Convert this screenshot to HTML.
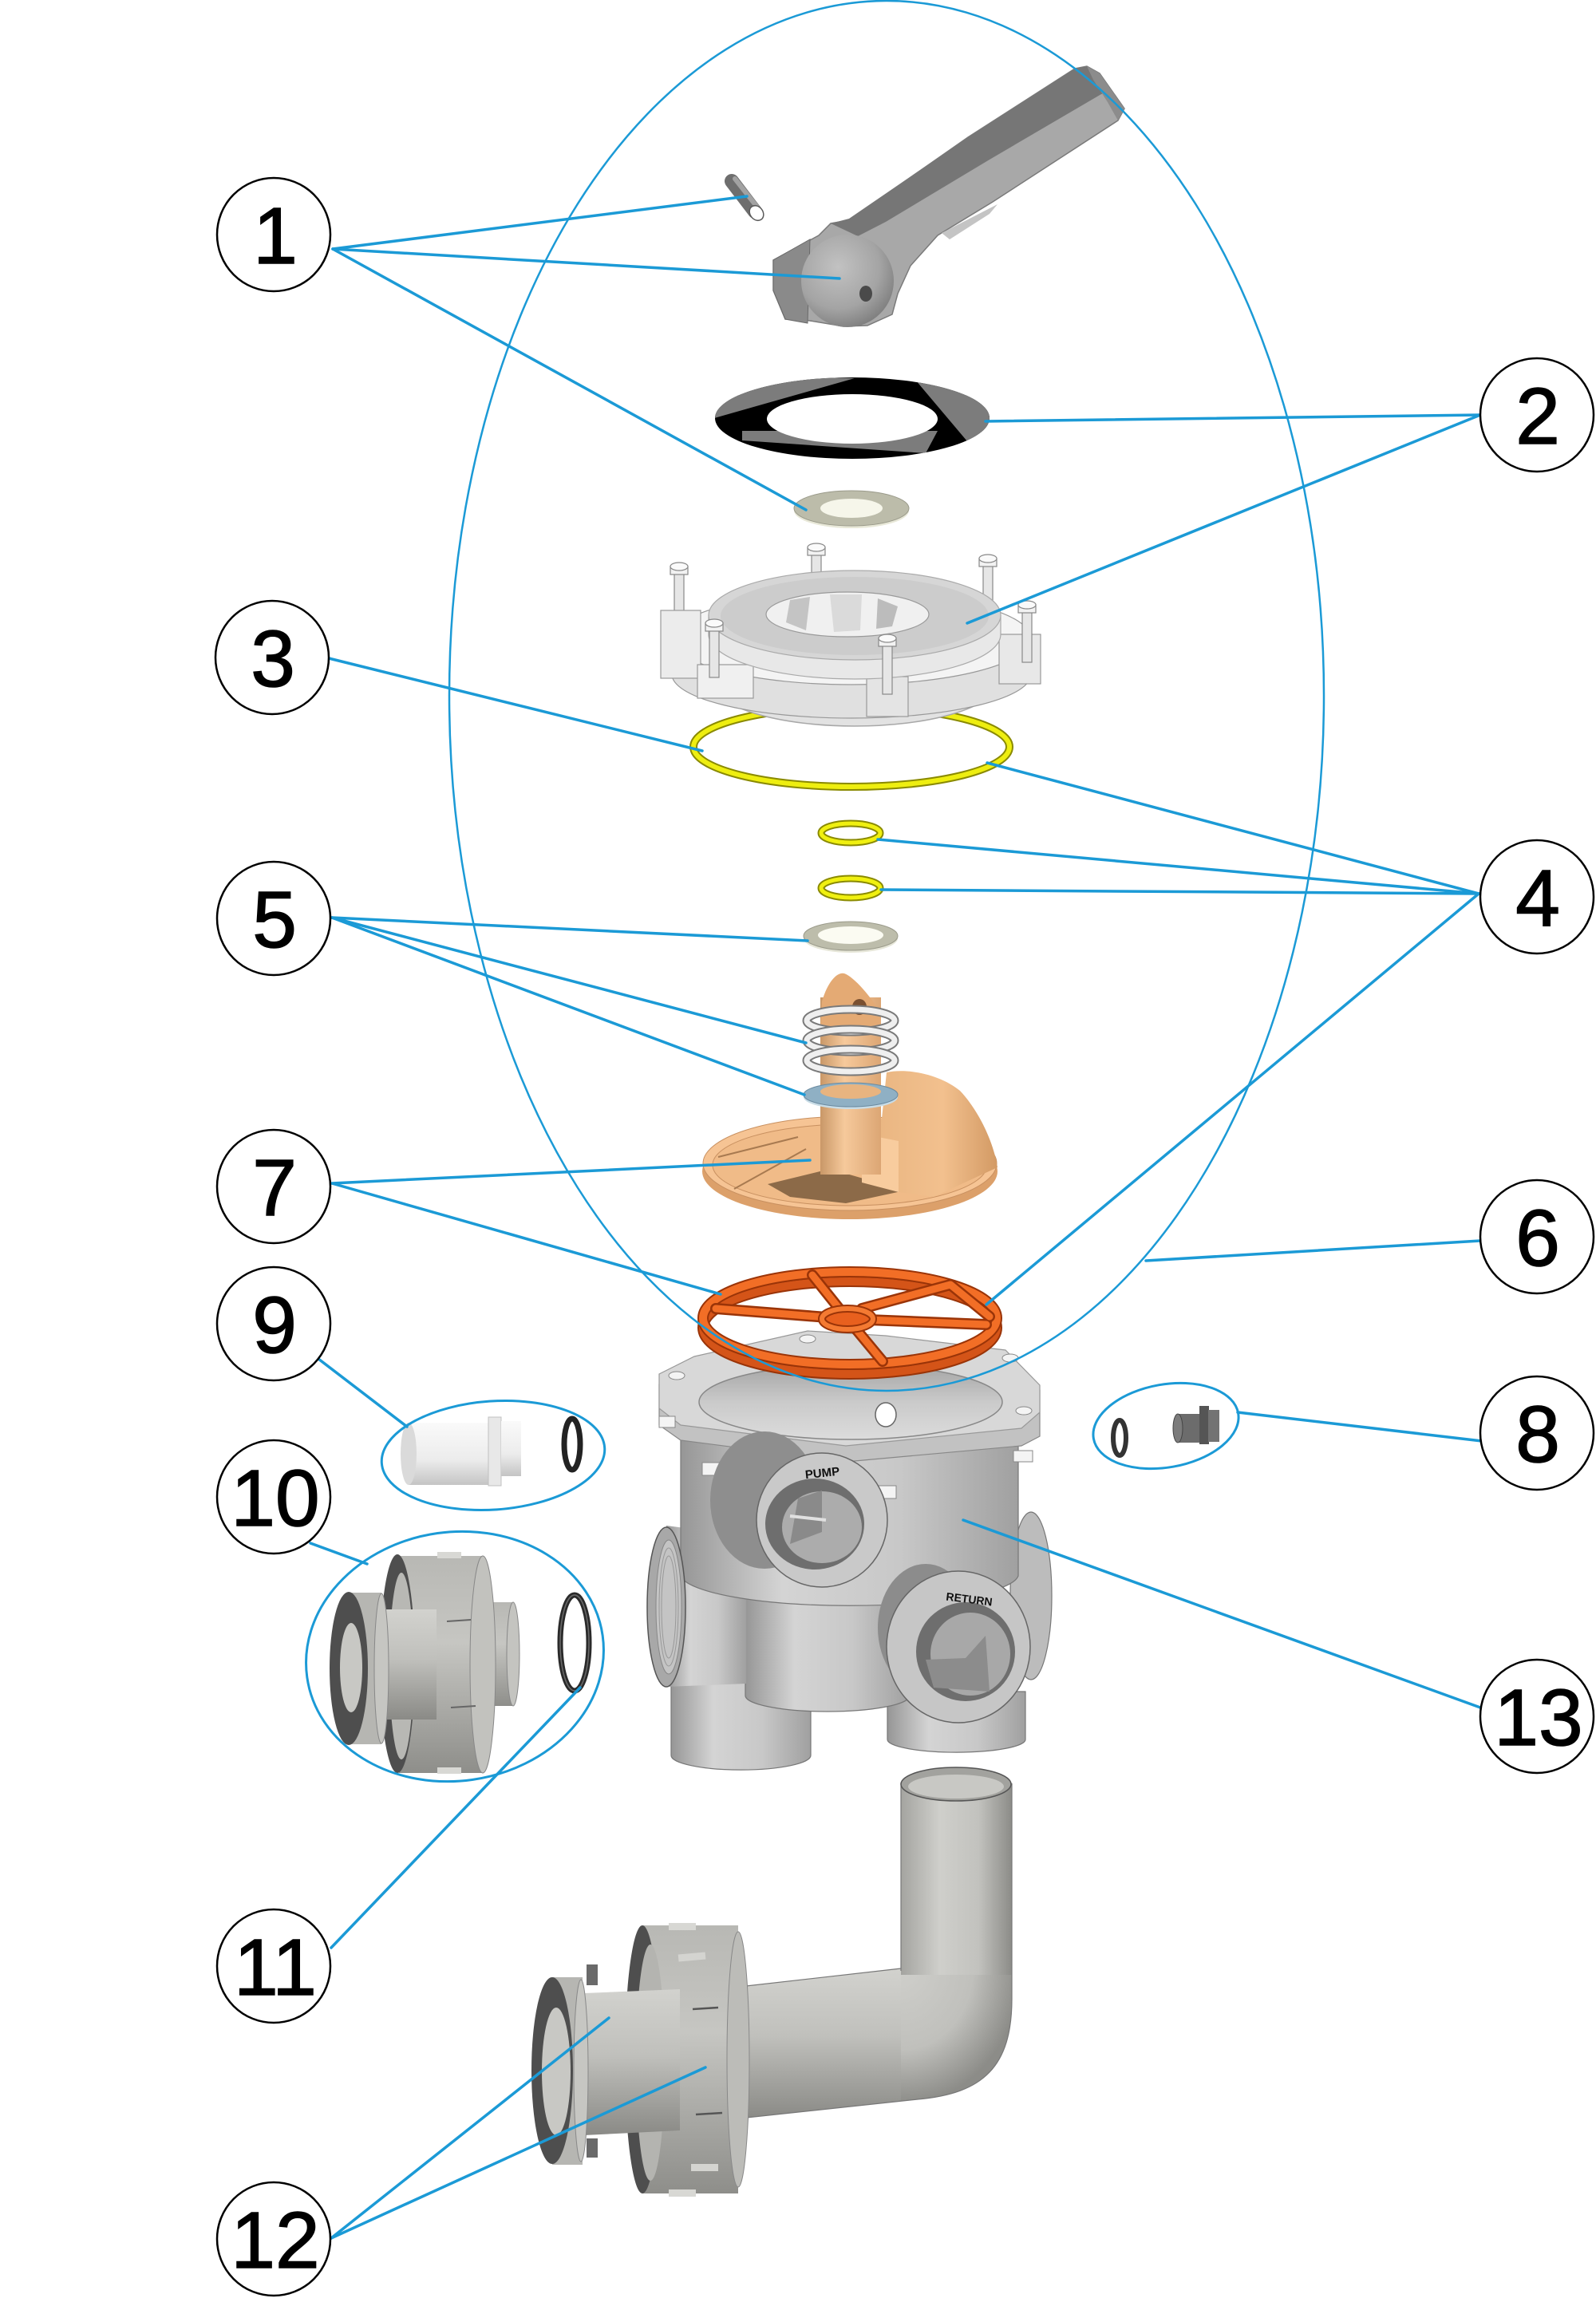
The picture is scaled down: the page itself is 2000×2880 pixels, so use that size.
<!DOCTYPE html>
<html>
<head>
<meta charset="utf-8">
<style>
html,body{margin:0;padding:0;background:#fff;}
svg{display:block;}
</style>
</head>
<body>
<svg width="2000" height="2880" viewBox="0 0 2000 2880" xmlns="http://www.w3.org/2000/svg">
<defs>
  <linearGradient id="cylV" x1="0" y1="0" x2="1" y2="0">
    <stop offset="0" stop-color="#969696"/>
    <stop offset="0.3" stop-color="#d4d4d4"/>
    <stop offset="0.65" stop-color="#c8c8c8"/>
    <stop offset="1" stop-color="#a0a0a0"/>
  </linearGradient>
  <linearGradient id="cylV2" x1="0" y1="0" x2="1" y2="0">
    <stop offset="0" stop-color="#a4a4a0"/>
    <stop offset="0.35" stop-color="#cfcfcb"/>
    <stop offset="0.7" stop-color="#c2c2be"/>
    <stop offset="1" stop-color="#8c8c88"/>
  </linearGradient>
  <linearGradient id="cylH" x1="0" y1="0" x2="0" y2="1">
    <stop offset="0" stop-color="#d2d2ce"/>
    <stop offset="0.45" stop-color="#c0c0bc"/>
    <stop offset="1" stop-color="#8a8a86"/>
  </linearGradient>
  <radialGradient id="elbowG" cx="0" cy="0" r="1" gradientUnits="userSpaceOnUse" gradientTransform="translate(1129,2467) scale(150,170)">
    <stop offset="0" stop-color="#cfcfcb"/>
    <stop offset="0.6" stop-color="#c0c0bc"/>
    <stop offset="1" stop-color="#8c8c88"/>
  </radialGradient>
  <linearGradient id="nutG" x1="0" y1="0" x2="0" y2="1">
    <stop offset="0" stop-color="#b8b8b4"/>
    <stop offset="0.4" stop-color="#c6c6c2"/>
    <stop offset="1" stop-color="#8e8e8a"/>
  </linearGradient>
  <linearGradient id="tanV" x1="0" y1="0" x2="1" y2="0">
    <stop offset="0" stop-color="#c99868"/>
    <stop offset="0.4" stop-color="#f6c99b"/>
    <stop offset="1" stop-color="#dca674"/>
  </linearGradient>
  <linearGradient id="tanH" x1="0" y1="0" x2="1" y2="0">
    <stop offset="0" stop-color="#e8b47f"/>
    <stop offset="0.6" stop-color="#f2c08e"/>
    <stop offset="1" stop-color="#d39a64"/>
  </linearGradient>
  <radialGradient id="knob" cx="0.4" cy="0.35" r="0.75">
    <stop offset="0" stop-color="#c2c2c2"/>
    <stop offset="0.6" stop-color="#a4a4a4"/>
    <stop offset="1" stop-color="#747474"/>
  </radialGradient>
  <linearGradient id="whiteV" x1="0" y1="0" x2="0" y2="1">
    <stop offset="0" stop-color="#fafafa"/>
    <stop offset="0.6" stop-color="#ececec"/>
    <stop offset="1" stop-color="#c4c4c4"/>
  </linearGradient>
  <linearGradient id="opening" x1="0" y1="0" x2="0" y2="1">
    <stop offset="0" stop-color="#a4a4a4"/>
    <stop offset="0.5" stop-color="#cacaca"/>
    <stop offset="1" stop-color="#dcdcdc"/>
  </linearGradient>
  <clipPath id="gasketClip">
    <ellipse cx="1068" cy="524" rx="172" ry="51"/>
  </clipPath>
</defs>

<!-- ============ PART 1: pin ============ -->
<line x1="917" y1="227" x2="946" y2="265" stroke="#6e6e6e" stroke-width="18" stroke-linecap="round"/>
<line x1="921" y1="224" x2="950" y2="261" stroke="#a2a2a2" stroke-width="6" stroke-linecap="round"/>
<ellipse cx="948" cy="267" rx="8" ry="10" transform="rotate(-38 948 267)" fill="#ffffff" stroke="#5a5a5a" stroke-width="1.5"/>

<!-- ============ PART 1: handle ============ -->
<path d="M1064,276 L1213,172 L1347,86 L1362,83 L1378,92 L1409,136 L1401,151 L1244,253 L1175,295 L1141,333 L1125,368 L1118,394 L1087,408 L1057,409 L1003,400 L984,400 L969,364 L969,326 L1026,295 L1041,280 Z" fill="#a8a8a8" stroke="#7a7a7a" stroke-width="1.5"/>
<path d="M1041,280 L1064,274 L1213,172 L1347,86 L1362,83 L1378,92 L1392,115 L1380,118 L1240,200 L1110,278 L1075,296 Z" fill="#767676"/>
<path d="M1362,83 L1378,92 L1409,136 L1401,151 L1388,128 L1370,100 Z" fill="#8c8c8c"/>
<path d="M1180,292 L1250,256 L1240,268 L1190,300 Z" fill="#c4c4c4"/>
<path d="M969,326 L1015,300 L1012,405 L984,400 L969,364 Z" fill="#8a8a8a" stroke="#6a6a6a" stroke-width="1"/>
<circle cx="1062" cy="352" r="58" fill="url(#knob)"/>
<ellipse cx="1085" cy="368" rx="8" ry="10" fill="#4a4a4a"/>

<!-- ============ PART 2: gasket ============ -->
<ellipse cx="1068" cy="524" rx="172" ry="51" fill="#000"/>
<g clip-path="url(#gasketClip)">
  <polygon points="895,524 1071,474 880,470" fill="#7c7c7c"/>
  <polygon points="1147,476 1212,553 1260,553 1260,470" fill="#7c7c7c"/>
  <polygon points="930,552 1160,568 1175,540 930,540" fill="#7c7c7c"/>
</g>
<ellipse cx="1068" cy="525" rx="107" ry="31" fill="#ffffff"/>

<!-- ============ washer top ============ -->
<ellipse cx="1067" cy="640" rx="72" ry="22" fill="#e8e8d8"/>
<ellipse cx="1067" cy="637" rx="72" ry="22" fill="#bcbcaa" stroke="#9a9a8a" stroke-width="1"/>
<ellipse cx="1067" cy="637" rx="39" ry="12" fill="#f6f6ea"/>

<!-- ============ big yellow o-ring ============ -->
<ellipse cx="1067" cy="936" rx="198" ry="50" fill="none" stroke="#8a8a00" stroke-width="10"/>
<ellipse cx="1067" cy="936" rx="198" ry="50" fill="none" stroke="#eeee10" stroke-width="6"/>

<!-- ============ top cover ============ -->
<ellipse cx="1071" cy="855" rx="178" ry="55" fill="#e2e2e2" stroke="#a8a8a8" stroke-width="1.5"/>
<g stroke="#888" stroke-width="1.2">
  <rect x="845" y="718" width="12" height="72" fill="#e6e6e6"/>
  <rect x="840" y="710" width="22" height="10" fill="#f2f2f2"/>
  <ellipse cx="851" cy="710" rx="11" ry="5" fill="#fafafa"/>
  <rect x="1017" y="694" width="12" height="52" fill="#e6e6e6"/>
  <rect x="1012" y="686" width="22" height="10" fill="#f2f2f2"/>
  <ellipse cx="1023" cy="686" rx="11" ry="5" fill="#fafafa"/>
  <rect x="1232" y="708" width="12" height="62" fill="#e6e6e6"/>
  <rect x="1227" y="700" width="22" height="10" fill="#f2f2f2"/>
  <ellipse cx="1238" cy="700" rx="11" ry="5" fill="#fafafa"/>
</g>
<path d="M842,800 L842,845 A225,55 0 0 0 1292,845 L1292,800 Z" fill="#e0e0e0" stroke="#999" stroke-width="1.2"/>
<ellipse cx="1067" cy="800" rx="225" ry="58" fill="#f4f4f4" stroke="#999" stroke-width="1.2"/>
<rect x="828" y="765" width="50" height="85" fill="#ececec" stroke="#999" stroke-width="1.2"/>
<rect x="1252" y="795" width="52" height="62" fill="#e8e8e8" stroke="#999" stroke-width="1.2"/>
<rect x="874" y="833" width="70" height="42" fill="#f0f0f0" stroke="#999" stroke-width="1.2"/>
<rect x="1086" y="848" width="52" height="50" fill="#e4e4e4" stroke="#999" stroke-width="1.2"/>
<path d="M888,771 L888,795 A183,56 0 0 0 1254,795 L1254,771 Z" fill="#e8e8e8" stroke="#aaa" stroke-width="1.2"/>
<ellipse cx="1071" cy="771" rx="183" ry="56" fill="#d6d6d6" stroke="#aaa" stroke-width="1.2"/>
<ellipse cx="1071" cy="772" rx="168" ry="49" fill="#cccccc"/>
<ellipse cx="1062" cy="770" rx="102" ry="28" fill="#f0f0f0" stroke="#999" stroke-width="1.2"/>
<polygon points="990,752 1015,748 1010,790 985,780" fill="#c4c4c4"/>
<polygon points="1040,745 1080,745 1078,790 1045,792" fill="#dadada"/>
<polygon points="1100,750 1125,760 1118,785 1098,788" fill="#bcbcbc"/>
<g stroke="#888" stroke-width="1.2">
  <rect x="1281" y="766" width="12" height="64" fill="#e6e6e6"/>
  <rect x="1276" y="758" width="22" height="10" fill="#f2f2f2"/>
  <ellipse cx="1287" cy="758" rx="11" ry="5" fill="#fafafa"/>
  <rect x="889" y="789" width="12" height="60" fill="#e6e6e6"/>
  <rect x="884" y="781" width="22" height="10" fill="#f2f2f2"/>
  <ellipse cx="895" cy="781" rx="11" ry="5" fill="#fafafa"/>
  <rect x="1106" y="808" width="12" height="62" fill="#e6e6e6"/>
  <rect x="1101" y="800" width="22" height="10" fill="#f2f2f2"/>
  <ellipse cx="1112" cy="800" rx="11" ry="5" fill="#fafafa"/>
</g>

<!-- ============ small yellow o-rings ============ -->
<ellipse cx="1066" cy="1044" rx="37" ry="12" fill="none" stroke="#8a8a00" stroke-width="9"/>
<ellipse cx="1066" cy="1044" rx="37" ry="12" fill="none" stroke="#f0f010" stroke-width="5"/>
<ellipse cx="1066" cy="1113" rx="37" ry="12" fill="none" stroke="#8a8a00" stroke-width="9"/>
<ellipse cx="1066" cy="1113" rx="37" ry="12" fill="none" stroke="#f0f010" stroke-width="5"/>

<!-- ============ washer 5 ============ -->
<ellipse cx="1066" cy="1176" rx="59" ry="18" fill="#e6e6d8"/>
<ellipse cx="1066" cy="1173" rx="59" ry="18" fill="#bdbdab" stroke="#9a9a8a" stroke-width="1"/>
<ellipse cx="1066" cy="1172" rx="41" ry="11" fill="#fbfbf2"/>

<!-- ============ rotor 7 ============ -->
<ellipse cx="1065" cy="1468" rx="185" ry="60" fill="#dca06a"/>
<ellipse cx="1065" cy="1458" rx="184" ry="59" fill="#f6c494" stroke="#c89060" stroke-width="1"/>
<ellipse cx="1065" cy="1460" rx="172" ry="51" fill="#f0bb88" stroke="#c89060" stroke-width="1"/>
<polygon points="962,1484 1040,1465 1134,1492 1060,1508 990,1500" fill="#8c6a48"/>
<line x1="900" y1="1450" x2="1000" y2="1425" stroke="#a87a50" stroke-width="2"/>
<line x1="920" y1="1490" x2="1010" y2="1440" stroke="#a87a50" stroke-width="2"/>
<path d="M1080,1421 L1105,1402 L1111,1344 C1140,1338 1180,1348 1203,1367 C1225,1390 1245,1430 1250,1463 L1170,1500 L1126,1494 L1126,1430 Z" fill="url(#tanH)"/>
<polygon points="1080,1421 1126,1430 1126,1494 1080,1482" fill="#f8cc9e"/>
<rect x="1028" y="1250" width="76" height="222" fill="url(#tanV)"/>
<path d="M1028,1290 L1030,1255 C1038,1228 1050,1218 1058,1220 C1070,1224 1092,1250 1104,1270 L1104,1290 Z" fill="#e4aa74"/>
<ellipse cx="1077" cy="1262" rx="9" ry="10" fill="#7a5030"/>
<g fill="none">
  <ellipse cx="1066" cy="1279" rx="55" ry="14" stroke="#7a7a7a" stroke-width="11"/>
  <ellipse cx="1066" cy="1279" rx="55" ry="14" stroke="#efefef" stroke-width="7"/>
  <ellipse cx="1066" cy="1304" rx="55" ry="14" stroke="#7a7a7a" stroke-width="11"/>
  <ellipse cx="1066" cy="1304" rx="55" ry="14" stroke="#efefef" stroke-width="7"/>
  <ellipse cx="1066" cy="1329" rx="55" ry="14" stroke="#7a7a7a" stroke-width="11"/>
  <ellipse cx="1066" cy="1329" rx="55" ry="14" stroke="#efefef" stroke-width="7"/>
</g>
<ellipse cx="1066" cy="1375" rx="59" ry="15" fill="#c8dce6"/>
<ellipse cx="1066" cy="1372" rx="59" ry="15" fill="#8fb0c4" stroke="#6a8aa0" stroke-width="1"/>
<ellipse cx="1066" cy="1368" rx="38" ry="9" fill="#e8b480"/>

<!-- ============ body 13 ============ -->
<path d="M841,2105 L841,2200 A87,18 0 0 0 1016,2200 L1016,2105 Z" fill="url(#cylV)" stroke="#777" stroke-width="1.2"/>
<path d="M1112,2120 L1112,2180 A86,16 0 0 0 1285,2180 L1285,2120 Z" fill="url(#cylV)" stroke="#777" stroke-width="1.2"/>
<path d="M934,1980 L934,2125 A103,20 0 0 0 1140,2125 L1140,1980 Z" fill="url(#cylV)" stroke="#777" stroke-width="1.2"/>
<ellipse cx="1292" cy="2000" rx="26" ry="105" fill="#bcbcbc" stroke="#777" stroke-width="1.2"/>
<path d="M835,1912 L935,1925 L935,2110 L835,2114 Z" fill="url(#cylV)"/>
<path d="M853,1745 L853,1975 A212,40 0 0 0 1276,1975 L1276,1745 Z" fill="url(#cylV)" stroke="#777" stroke-width="1.2"/>
<ellipse cx="835" cy="2014" rx="24" ry="100" fill="#a8a8a8" stroke="#555" stroke-width="1.5"/>
<ellipse cx="838" cy="2014" rx="16" ry="84" fill="#c4c4c4" stroke="#888" stroke-width="1"/>
<g stroke="#999" stroke-width="1" fill="none">
  <ellipse cx="838" cy="2014" rx="12" ry="74"/>
  <ellipse cx="838" cy="2014" rx="9" ry="64"/>
</g>
<path d="M826,1735 L870,1708 L1012,1672 L1110,1680 L1260,1697 L1303,1742 L1303,1800 L1280,1812 L1060,1832 L853,1805 L826,1786 Z" fill="#c2c2c2" stroke="#888" stroke-width="1.2"/>
<path d="M826,1722 L870,1700 L1012,1668 L1110,1674 L1260,1692 L1303,1736 L1303,1770 L1280,1790 L1060,1812 L853,1786 L826,1765 Z" fill="#d8d8d8" stroke="#999" stroke-width="1.2"/>
<ellipse cx="1066" cy="1757" rx="190" ry="47" fill="url(#opening)" stroke="#888" stroke-width="1.5"/>
<ellipse cx="1110" cy="1773" rx="13" ry="15" fill="#fff" stroke="#666" stroke-width="1.5"/>
<g fill="#f4f4f4" stroke="#888" stroke-width="1">
  <ellipse cx="848" cy="1724" rx="10" ry="5"/>
  <ellipse cx="1012" cy="1678" rx="10" ry="5"/>
  <ellipse cx="1266" cy="1702" rx="10" ry="5"/>
  <ellipse cx="1283" cy="1768" rx="10" ry="5"/>
  <rect x="826" y="1775" width="20" height="14"/>
  <rect x="880" y="1833" width="26" height="16"/>
  <rect x="1097" y="1862" width="26" height="16"/>
  <rect x="1270" y="1818" width="24" height="14"/>
</g>
<ellipse cx="958" cy="1880" rx="68" ry="86" fill="#8e8e8e"/>
<ellipse cx="1030" cy="1905" rx="82" ry="84" fill="#c9c9c9" stroke="#666" stroke-width="1.5"/>
<ellipse cx="1021" cy="1910" rx="62" ry="57" fill="#6e6e6e"/>
<ellipse cx="1030" cy="1914" rx="50" ry="45" fill="#acacac"/>
<polygon points="1000,1878 1030,1868 1030,1920 990,1935" fill="#8a8a8a"/>
<line x1="990" y1="1900" x2="1035" y2="1905" stroke="#e0e0e0" stroke-width="4"/>
<text x="1031" y="1851" font-family="Liberation Sans, Arial, sans-serif" font-size="15" font-weight="bold" text-anchor="middle" transform="rotate(-6 1031 1851)" fill="#111">PUMP</text>
<ellipse cx="1160" cy="2040" rx="60" ry="80" fill="#8c8c8c"/>
<ellipse cx="1201" cy="2064" rx="90" ry="95" fill="#c6c6c6" stroke="#666" stroke-width="1.5"/>
<ellipse cx="1210" cy="2070" rx="62" ry="62" fill="#6e6e6e"/>
<ellipse cx="1216" cy="2073" rx="50" ry="52" fill="#a8a8a8"/>
<polygon points="1160,2080 1210,2078 1235,2050 1240,2120 1170,2115" fill="#8c8c8c"/>
<text x="1214" y="2009" font-family="Liberation Sans, Arial, sans-serif" font-size="14" font-weight="bold" text-anchor="middle" transform="rotate(7 1214 2009)" fill="#111">RETURN</text>

<!-- ============ orange gasket 7 ============ -->
<g fill="none" stroke-linecap="round" stroke-linejoin="round">
  <ellipse cx="1065" cy="1664" rx="184" ry="58" stroke="#9a3408" stroke-width="14"/>
  <ellipse cx="1065" cy="1664" rx="184" ry="58" stroke="#d45418" stroke-width="10"/>
  <ellipse cx="1065" cy="1652" rx="184" ry="58" stroke="#9a3408" stroke-width="14"/>
  <ellipse cx="1065" cy="1652" rx="184" ry="58" stroke="#f26e26" stroke-width="10"/>
  <g stroke="#9a3408" stroke-width="14">
    <line x1="1062" y1="1653" x2="897" y2="1640"/>
    <line x1="1062" y1="1653" x2="1236" y2="1660"/>
    <line x1="1062" y1="1653" x2="1018" y2="1598"/>
    <line x1="1062" y1="1653" x2="1106" y2="1706"/>
    <polyline points="1080,1640 1191,1610 1240,1650"/>
  </g>
  <g stroke="#f26e26" stroke-width="9">
    <line x1="1062" y1="1653" x2="897" y2="1640"/>
    <line x1="1062" y1="1653" x2="1236" y2="1660"/>
    <line x1="1062" y1="1653" x2="1018" y2="1598"/>
    <line x1="1062" y1="1653" x2="1106" y2="1706"/>
    <polyline points="1080,1640 1191,1610 1240,1650"/>
  </g>
  <ellipse cx="1062" cy="1653" rx="32" ry="13" fill="#e8601e" stroke="#9a3408" stroke-width="10"/>
  <ellipse cx="1062" cy="1653" rx="32" ry="13" stroke="#f47a32" stroke-width="6"/>
</g>

<!-- ============ plug 9 ============ -->
<rect x="512" y="1783" width="108" height="78" fill="url(#whiteV)"/>
<ellipse cx="512" cy="1822" rx="10" ry="39" fill="#dadada"/>
<rect x="612" y="1776" width="16" height="86" fill="#e8e8e8" stroke="#c0c0c0" stroke-width="1"/>
<rect x="628" y="1781" width="25" height="69" fill="url(#whiteV)"/>
<ellipse cx="717" cy="1810" rx="10" ry="32" fill="none" stroke="#222" stroke-width="7"/>

<!-- ============ plug 8 ============ -->
<ellipse cx="1403" cy="1802" rx="8" ry="22" fill="none" stroke="#333" stroke-width="6"/>
<rect x="1475" y="1772" width="32" height="36" fill="#6c6c6c"/>
<ellipse cx="1476" cy="1790" rx="6" ry="18" fill="#7c7c7c" stroke="#444" stroke-width="1"/>
<rect x="1503" y="1762" width="12" height="48" fill="#555"/>
<rect x="1514" y="1767" width="14" height="40" fill="#737373"/>

<!-- ============ union 10 ============ -->
<rect x="600" y="2008" width="43" height="130" fill="url(#nutG)"/>
<ellipse cx="643" cy="2073" rx="8" ry="65" fill="#c4c4c0" stroke="#888" stroke-width="1"/>
<rect x="500" y="1950" width="105" height="272" fill="url(#nutG)"/>
<ellipse cx="605" cy="2086" rx="16" ry="136" fill="#c2c2be" stroke="#888" stroke-width="1"/>
<ellipse cx="498" cy="2085" rx="22" ry="137" fill="#4e4e4e"/>
<ellipse cx="503" cy="2088" rx="15" ry="117" fill="#b8b8b4"/>
<rect x="548" y="1945" width="30" height="8" fill="#d8d8d4"/>
<rect x="548" y="2215" width="30" height="8" fill="#d8d8d4"/>
<line x1="560" y1="2032" x2="590" y2="2030" stroke="#666" stroke-width="2"/>
<line x1="565" y1="2140" x2="596" y2="2138" stroke="#666" stroke-width="2"/>
<rect x="470" y="2017" width="77" height="138" fill="url(#cylH)"/>
<rect x="440" y="1996" width="38" height="190" fill="#b6b6b2"/>
<ellipse cx="478" cy="2091" rx="9" ry="94" fill="#c6c6c2" stroke="#888" stroke-width="1"/>
<ellipse cx="437" cy="2091" rx="24" ry="96" fill="#4e4e4e"/>
<ellipse cx="440" cy="2090" rx="14" ry="56" fill="#c8c8c4"/>

<!-- o-ring 11 -->
<ellipse cx="720" cy="2059" rx="18" ry="60" fill="none" stroke="#2a2a2a" stroke-width="7"/>
<ellipse cx="720" cy="2059" rx="18" ry="60" fill="none" stroke="#6a6a6a" stroke-width="1.5"/>

<!-- ============ pipe 12 ============ -->
<path d="M926,2490 L1129,2467 L1140,2632 L926,2655 Z" fill="url(#cylH)"/>
<path d="M1129,2467 L1268,2467 L1268,2505 C1268,2590 1232,2624 1150,2631 L1129,2633 Z" fill="url(#elbowG)"/>
<rect x="1129" y="2235" width="139" height="240" fill="url(#cylV2)"/>
<path d="M1129,2470 L1129,2235 M1268,2235 L1268,2505 C1268,2590 1232,2624 1150,2631 L926,2655 M926,2490 L1129,2467" fill="none" stroke="#777" stroke-width="1.2"/>
<ellipse cx="1198" cy="2236" rx="69" ry="21" fill="#a2a29e" stroke="#555" stroke-width="1.5"/>
<ellipse cx="1198" cy="2239" rx="60" ry="15" fill="#c8c8c4"/>
<rect x="805" y="2413" width="120" height="336" fill="url(#nutG)"/>
<ellipse cx="925" cy="2581" rx="14" ry="160" fill="#bcbcb8" stroke="#888" stroke-width="1"/>
<ellipse cx="805" cy="2581" rx="22" ry="168" fill="#4e4e4e"/>
<ellipse cx="815" cy="2585" rx="18" ry="148" fill="#b4b4b0"/>
<rect x="838" y="2410" width="34" height="9" fill="#d8d8d4"/>
<rect x="838" y="2744" width="34" height="9" fill="#d8d8d4"/>
<line x1="868" y1="2518" x2="900" y2="2516" stroke="#555" stroke-width="2.5"/>
<line x1="872" y1="2650" x2="905" y2="2648" stroke="#555" stroke-width="2.5"/>
<rect x="850" y="2448" width="34" height="9" fill="#d4d4d0" transform="rotate(-5 867 2452)"/>
<rect x="866" y="2712" width="34" height="9" fill="#d4d4d0"/>
<path d="M732,2498 L852,2493 L852,2670 L732,2676 Z" fill="url(#cylH)"/>
<rect x="692" y="2478" width="38" height="235" fill="#b6b6b2"/>
<ellipse cx="728" cy="2595" rx="9" ry="114" fill="#c6c6c2" stroke="#888" stroke-width="1"/>
<ellipse cx="692" cy="2595" rx="26" ry="117" fill="#4e4e4e"/>
<ellipse cx="697" cy="2596" rx="18" ry="80" fill="#c8c8c4"/>
<rect x="735" y="2462" width="14" height="26" fill="#6a6a6a"/>
<rect x="735" y="2680" width="14" height="24" fill="#6a6a6a"/>

<!-- ============ big ellipse 6 ============ -->
<ellipse cx="1111" cy="872" rx="548" ry="871" fill="none" stroke="#1b9ad6" stroke-width="2.5"/>

<!-- group ellipses -->
<ellipse cx="618" cy="1824" rx="140" ry="68" transform="rotate(-4 618 1824)" fill="none" stroke="#1b9ad6" stroke-width="3"/>
<ellipse cx="570" cy="2076" rx="187" ry="156" transform="rotate(-8 570 2076)" fill="none" stroke="#1b9ad6" stroke-width="3"/>
<ellipse cx="1461" cy="1787" rx="92" ry="52" transform="rotate(-10 1461 1787)" fill="none" stroke="#1b9ad6" stroke-width="3"/>

<!-- ============ leader lines ============ -->
<g stroke="#1b9ad6" stroke-width="3.5" fill="none" stroke-linecap="round">
  <line x1="417" y1="312" x2="936" y2="246"/>
  <line x1="417" y1="312" x2="1052" y2="349"/>
  <line x1="417" y1="312" x2="1010" y2="639"/>
  <line x1="1855" y1="520" x2="1235" y2="528"/>
  <line x1="1855" y1="520" x2="1212" y2="781"/>
  <line x1="412" y1="825" x2="880" y2="941"/>
  <line x1="1853" y1="1120" x2="1237" y2="956"/>
  <line x1="1853" y1="1120" x2="1100" y2="1052"/>
  <line x1="1853" y1="1120" x2="1104" y2="1115"/>
  <line x1="1853" y1="1120" x2="1236" y2="1635"/>
  <line x1="416" y1="1150" x2="1012" y2="1179"/>
  <line x1="416" y1="1150" x2="1010" y2="1307"/>
  <line x1="416" y1="1150" x2="1008" y2="1372"/>
  <line x1="1855" y1="1555" x2="1436" y2="1580"/>
  <line x1="416" y1="1483" x2="1015" y2="1454"/>
  <line x1="416" y1="1483" x2="903" y2="1622"/>
  <line x1="1551" y1="1770" x2="1857" y2="1806"/>
  <line x1="399" y1="1703" x2="510" y2="1788"/>
  <line x1="389" y1="1934" x2="460" y2="1960"/>
  <line x1="415" y1="2441" x2="727" y2="2115"/>
  <line x1="415" y1="2805" x2="763" y2="2529"/>
  <line x1="415" y1="2805" x2="884" y2="2591"/>
  <line x1="1855" y1="2140" x2="1207" y2="1905"/>
</g>

<!-- ============ callout circles ============ -->
<g fill="#fff" stroke="#000" stroke-width="2.5">
  <circle cx="343" cy="294" r="71"/>
  <circle cx="1926" cy="520" r="71"/>
  <circle cx="341" cy="824" r="71"/>
  <circle cx="1926" cy="1124" r="71"/>
  <circle cx="343" cy="1151" r="71"/>
  <circle cx="1926" cy="1550" r="71"/>
  <circle cx="343" cy="1487" r="71"/>
  <circle cx="1926" cy="1796" r="71"/>
  <circle cx="343" cy="1659" r="71"/>
  <circle cx="343" cy="1876" r="71"/>
  <circle cx="343" cy="2464" r="71"/>
  <circle cx="343" cy="2806" r="71"/>
  <circle cx="1926" cy="2151" r="71"/>
</g>
<g font-family="Liberation Sans, Arial, sans-serif" font-size="100" text-anchor="middle" fill="#000" stroke="#000" stroke-width="1.5">
  <text x="345" y="330">1</text>
  <text x="1927" y="556">2</text>
  <text x="342" y="860">3</text>
  <text x="1927" y="1160">4</text>
  <text x="344" y="1187">5</text>
  <text x="1927" y="1586">6</text>
  <text x="344" y="1523">7</text>
  <text x="1927" y="1832">8</text>
  <text x="344" y="1695">9</text>
  <text x="345" y="1912">10</text>
  <text x="345" y="2500">11</text>
  <text x="345" y="2842">12</text>
  <text x="1928" y="2187">13</text>
</g>
</svg>
</body>
</html>
